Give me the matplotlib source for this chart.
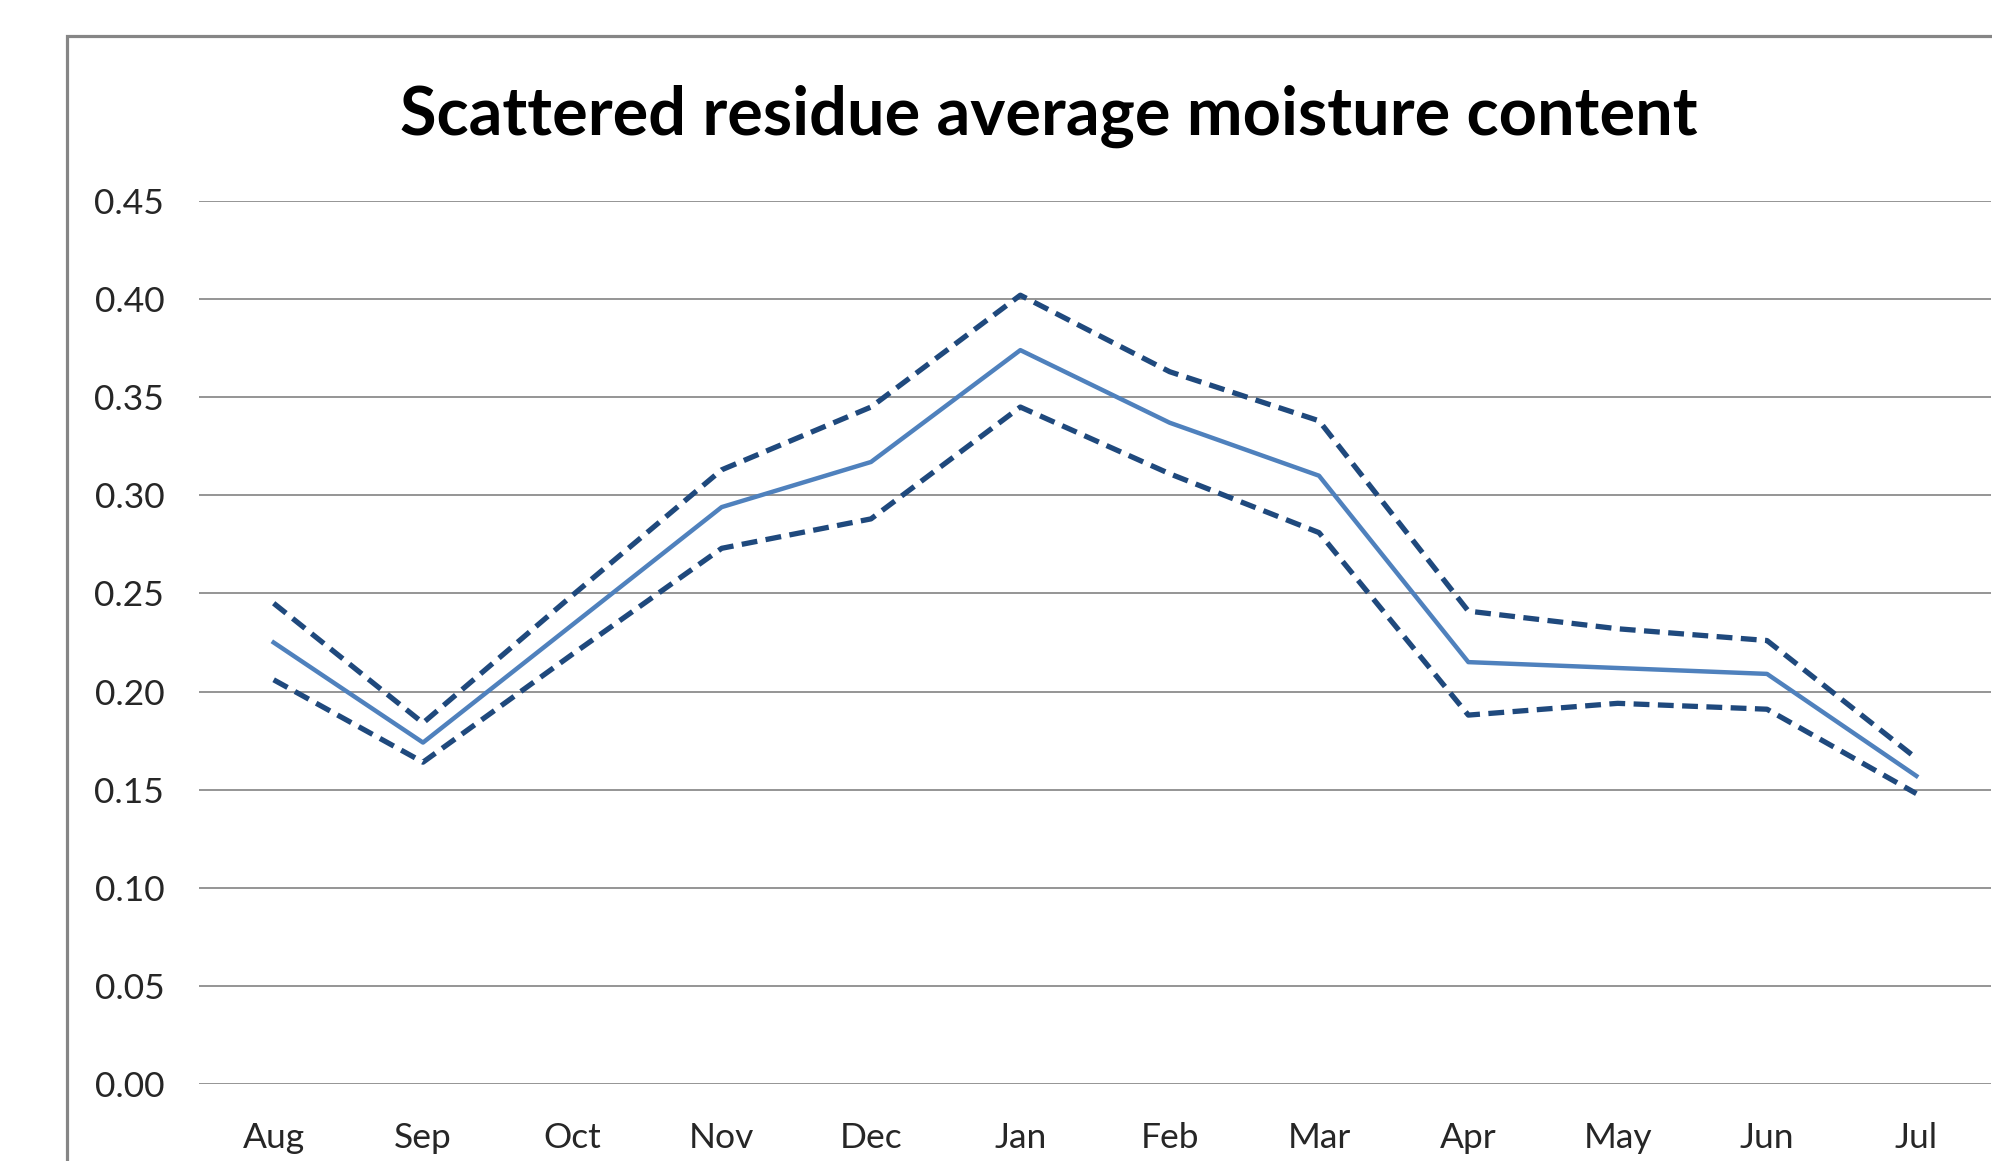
import matplotlib
matplotlib.use("Agg")
import matplotlib.pyplot as plt
import matplotlib.patches as mpatches

meses = ["Aug", "Sep", "Oct", "Nov", "Dec", "Jan", "Feb", "Mar", "Apr", "May", "Jun", "Jul"]
promedio = [0.225, 0.174, 0.234, 0.294, 0.317, 0.374, 0.337, 0.310, 0.215, 0.212, 0.209, 0.157]
superior = [0.245, 0.184, 0.249, 0.313, 0.345, 0.402, 0.363, 0.338, 0.241, 0.232, 0.226, 0.166]
inferior = [0.206, 0.164, 0.219, 0.273, 0.288, 0.345, 0.311, 0.281, 0.188, 0.194, 0.191, 0.148]
ticks_y = [0.00, 0.05, 0.10, 0.15, 0.20, 0.25, 0.30, 0.35, 0.40, 0.45]

plt.rcParams["font.family"] = ["Lato", "DejaVu Sans"]

W, H = 1992, 1161
fig = plt.figure(figsize=(W / 100, H / 100), dpi=100)
ax = fig.add_axes([199 / W, 1 - 1084 / H, 1792 / W, (1084 - 201) / H])

x = list(range(len(meses)))
ax.plot(x, superior, color="#1F497D", lw=3.8, linestyle=(0, (3, 1.6)), dash_capstyle="butt")
ax.plot(x, inferior, color="#1F497D", lw=3.8, linestyle=(0, (3, 1.6)), dash_capstyle="butt")
ax.plot(x, promedio, color="#4F81BD", lw=3.2)

ax.set_xlim(-0.5, 11.5)
ax.set_ylim(0, 0.45)
ax.set_yticks(ticks_y)
ax.set_yticklabels(["%.2f" % t for t in ticks_y])
ax.set_xticks(x)
ax.set_xticklabels(meses)
ax.tick_params(axis="both", length=0, labelsize=25.5, labelcolor="#262626")
ax.tick_params(axis="y", pad=25)
ax.tick_params(axis="x", pad=27)
ax.grid(axis="y", color="#8C8C8C", lw=1.3)
ax.set_axisbelow(True)
for s in ax.spines.values():
    s.set_visible(False)

# borde del area del grafico (recortado a la derecha y abajo)
borde = mpatches.Rectangle((67 / W, -0.1), 1.2, 1 - 36 / H + 0.1, transform=fig.transFigure,
                           fill=False, edgecolor="#868686", lw=2.3, clip_on=False)
fig.patches.append(borde)

fig.text(1049 / W, 1 - 116 / H, "Scattered residue average moisture content",
         ha="center", va="center", fontsize=48, fontweight="bold", color="black")

fig.savefig("out.png", dpi=100)
